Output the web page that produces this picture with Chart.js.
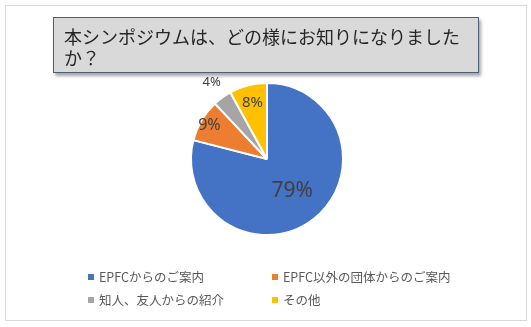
<!DOCTYPE html>
<html lang="ja">
<head>
<meta charset="utf-8">
<script src="https://cdn.jsdelivr.net/npm/chart.js@4"></script>
<style>
    html, body { margin: 0; padding: 0; background: #fff; }
    #wrap { position: relative; width: 531px; height: 327px; overflow: hidden; font-family: "Noto Sans CJK JP", "Noto Sans", sans-serif; }
    #frame { position: absolute; left: 5px; top: 5px; width: 520px; height: 314px; border: 1.5px solid #d9d9d9; }
    #chartBox { position: absolute; left: 0; top: 0; width: 531px; height: 327px; }
    #title { position: absolute; left: 53px; top: 17px; width: 424px; height: 54px; box-sizing: content-box;
        background: #d9d9d9; border: 1.5px solid #4f5d78; box-shadow: 2px 3px 3px rgba(0,0,0,0.35);
        font-size: 18px; line-height: 21px; color: #262626; padding: 0; }
    #title span { display: block; padding: 8px 0 0 10px; }
    #legend { position: absolute; left: 0; top: 0; width: 531px; height: 327px; pointer-events: none; }
    .item { position: absolute; font-size: 12.5px; color: #595959; white-space: nowrap; line-height: 16px; }
    .item i { display: inline-block; width: 6px; height: 6px; margin-right: 5px; vertical-align: 2px; }
</style>
</head>
<body>
<div id="wrap">
    <div id="frame"></div>
    <div id="chartBox"><canvas id="pieChart"></canvas></div>
    <div id="title"><span>本シンポジウムは、どの様にお知りになりました<br>か？</span></div>
    <div id="legend"></div>
</div>
<script>
// 回答の区分と割合(%)
const categories = ['EPFCからのご案内', 'EPFC以外の団体からのご案内', '知人、友人からの紹介', 'その他'];
const shares = [79, 9, 4, 8];
const sliceColors = ['#4472c4', '#ed7d31', '#a5a5a5', '#ffc000'];

// ラベルの表示(半径に対する位置とフォントサイズ)
const labelRadius = [0.54, 0.88, 1.24, 0.77];
const labelSize = [21, 16, 13, 15];

// 凡例の配置
const legendCols = [88, 272];
const legendRows = [269, 292];

const legendEl = document.getElementById('legend');
categories.forEach(function(name, i) {
    const div = document.createElement('div');
    div.className = 'item';
    div.style.left = legendCols[i % 2] + 'px';
    div.style.top = legendRows[Math.floor(i / 2)] + 'px';
    div.innerHTML = '<i style="background:' + sliceColors[i] + '"></i>' + name;
    legendEl.appendChild(div);
});

const pieLabels = {
    id: 'pieLabels',
    afterDatasetsDraw: function(chart) {
        const ctx = chart.ctx;
        const meta = chart.getDatasetMeta(0);
        ctx.save();
        ctx.textAlign = 'center';
        ctx.textBaseline = 'middle';
        ctx.fillStyle = '#404040';
        meta.data.forEach(function(arc, i) {
            const p = arc.getProps(['x', 'y', 'startAngle', 'endAngle', 'outerRadius'], true);
            const mid = (p.startAngle + p.endAngle) / 2;
            const r = p.outerRadius * labelRadius[i];
            ctx.font = labelSize[i] + 'px "Noto Sans", sans-serif';
            ctx.fillText(shares[i] + '%', p.x + Math.cos(mid) * r, p.y + Math.sin(mid) * r);
        });
        ctx.restore();
    }
};

const ctx = document.getElementById('pieChart').getContext('2d');
new Chart(ctx, {
    type: 'pie',
    data: {
        labels: categories,
        datasets: [{
            data: shares,
            backgroundColor: sliceColors,
            borderColor: '#ffffff',
            borderWidth: 2
        }]
    },
    options: {
        responsive: true,
        maintainAspectRatio: false,
        animation: false,
        layout: {
            padding: { top: 82, bottom: 91, left: 190, right: 187 }
        },
        plugins: {
            legend: { display: false },
            title: { display: false },
            tooltip: { enabled: false }
        }
    },
    plugins: [pieLabels]
});
</script>
</body>
</html>
